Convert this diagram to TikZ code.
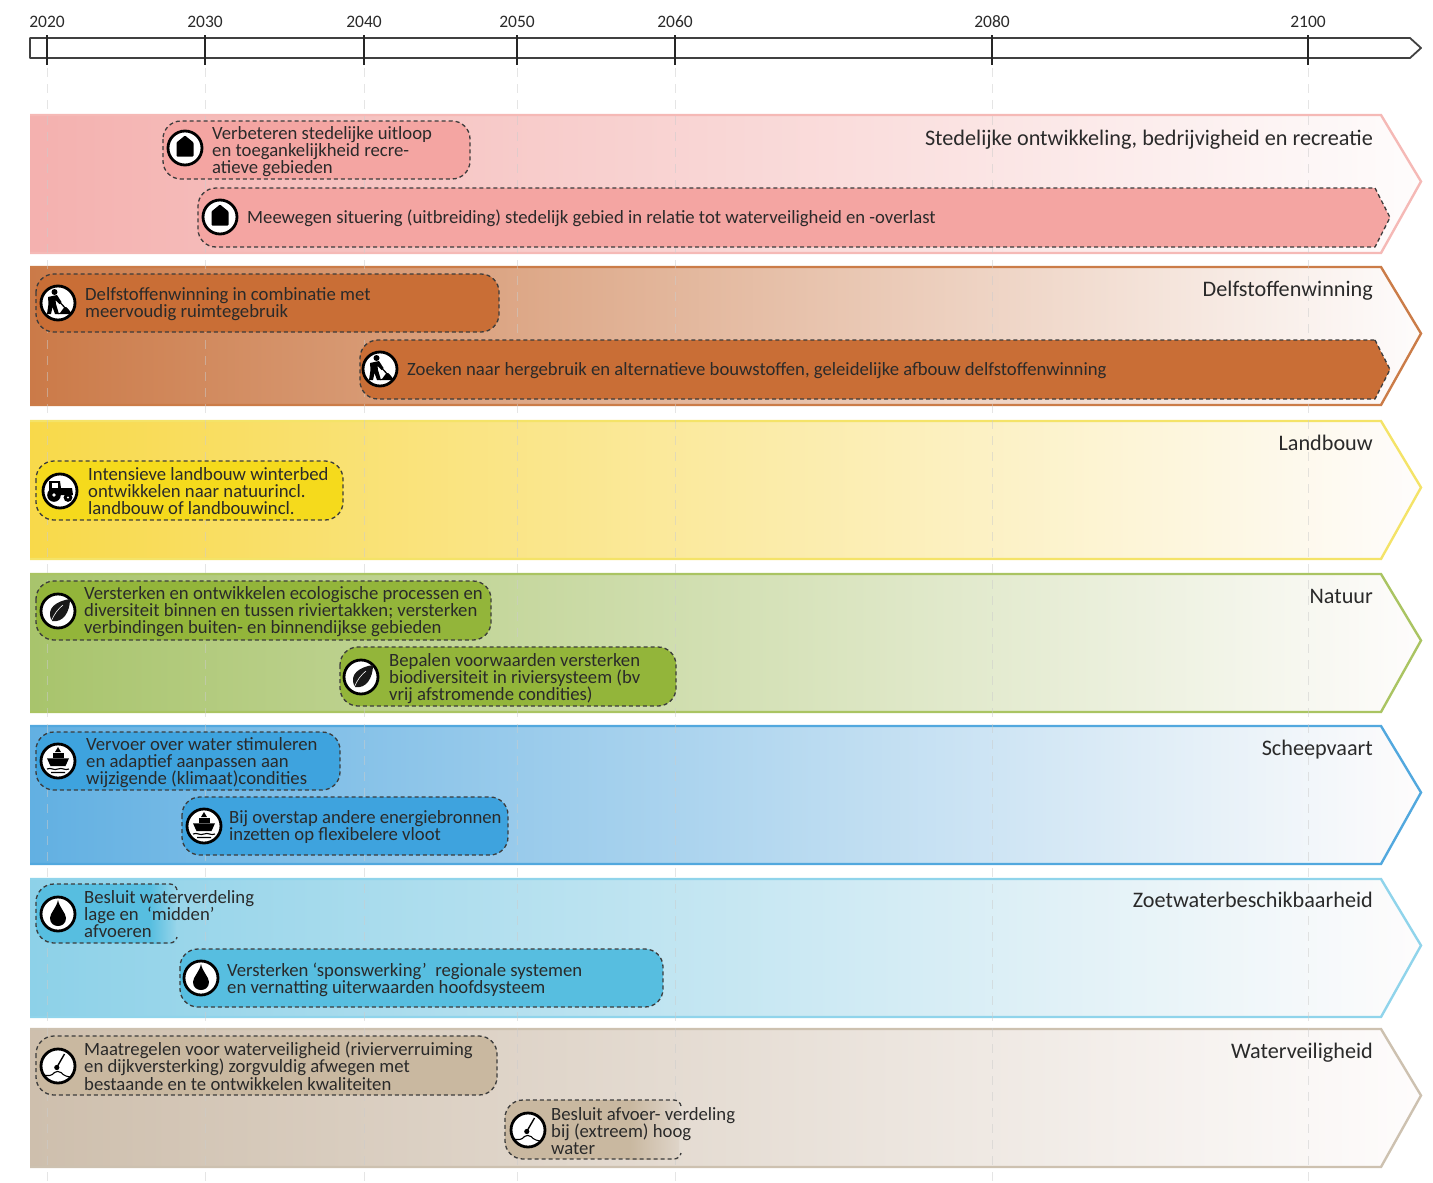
\documentclass[tikz,border=0pt]{standalone}
\usepackage{fontspec}
\setmainfont{Carlito}
\definecolor{txt}{HTML}{2A2A2A}
\definecolor{dashc}{HTML}{3C3C3C}
\definecolor{pinkB}{HTML}{F4B1AF}\definecolor{pinkS}{HTML}{F5B9B6}\definecolor{pinkP}{HTML}{F4A5A2}
\definecolor{oraB}{HTML}{CB7A48}\definecolor{oraS}{HTML}{CB7C48}\definecolor{oraP}{HTML}{C96E36}
\definecolor{yelB}{HTML}{F8D94A}\definecolor{yelS}{HTML}{F4E368}\definecolor{yelP}{HTML}{F5DA1C}
\definecolor{greB}{HTML}{A8C46C}\definecolor{greS}{HTML}{AAC462}\definecolor{greP}{HTML}{93B53A}
\definecolor{bluB}{HTML}{62B0E2}\definecolor{bluS}{HTML}{52A8DE}\definecolor{bluP}{HTML}{3EA3DE}
\definecolor{cyaB}{HTML}{8DD1E8}\definecolor{cyaS}{HTML}{90D4EB}\definecolor{cyaP}{HTML}{57BEE0}
\definecolor{tanB}{HTML}{CEBFAD}\definecolor{tanS}{HTML}{CDC1B0}\definecolor{tanP}{HTML}{C9B8A0}
\definecolor{endW}{HTML}{FEFCFC}
\newcommand{\bandstrip}[4]{%
  \shade[left color=#3,middle color=#3!68!endW,right color=endW] (30,#1) -- (1381,#1) -- (1421,{(#1+#2)/2-2.5}) -- (1381,#2) -- (30,#2) -- cycle;
  \draw[bandedge,draw=#4] (30,#1) -- (1381,#1) -- (1421,{(#1+#2)/2-2.5}) -- (1381,#2) -- (30,#2);
}
\newcommand{\pillbox}[5]{%
  \draw[pilledge,fill=#5] (#1,#3) rectangle (#2,#4);
}
\newcommand{\pillarrow}[4]{%
  \draw[pilledge,sharp corners,fill=#4] (1375,#2) -- (1390,{(#2+#3)/2}) -- (1375,#3) [rounded corners=18pt] -- (#1,#3) -- (#1,#2) [sharp corners] -- (1375,#2) -- cycle;
}
\tikzset{
  x=1pt,y=-1pt,
  bandedge/.style={line width=2.4pt,line join=miter},
  yearline/.style={line width=1pt,draw=gray!40,dash pattern=on 9pt off 7pt,opacity=.5},
  yeartick/.style={line width=1.9pt,draw=black!85},
  pilledge/.style={line width=1.3pt,draw=dashc,dash pattern=on 4pt off 3pt,rounded corners=18pt},
  icon ring/.style={circle,draw=black,fill=white,line width=2.8pt,minimum size=34pt,inner sep=0pt},
  pilltext/.style={anchor=west,align=left,inner sep=0pt,text=txt,font=\fontsize{18.7}{17.3}\selectfont},
  bandtitle/.style={anchor=east,inner sep=0pt,text=txt,font=\fontsize{22.2}{24}\selectfont},
  yearlabel/.style={inner sep=0pt,text=txt,font=\fontsize{17.5}{18}\selectfont},
  housepic/.pic={\fill[black,rounded corners=.8pt] (0,-12.5) -- (8.5,-5.5) -- (8.5,8.5) -- (-8.5,8.5) -- (-8.5,-5.5) -- cycle;},
  minerpic/.pic={
    \fill[black] (-3.5,-11) circle (3);
    \fill[black] (-10,-6) -- (-1,-8) -- (3.5,-1) -- (1.5,1) -- (-2.5,-3) -- (-2,1) -- (1,11) -- (-3,11) -- (-5.5,4) -- (-7,11) -- (-11,11) -- (-9.5,1) -- cycle;
    \draw[black,line width=1.3pt] (-1,-4) -- (9,7);
    \fill[black] (0,11) .. controls (4,10) and (5,3) .. (8,4) .. controls (10,5) and (12,9) .. (14.5,11) -- cycle;},
  tractorpic/.pic={
    \fill[black] (-11,-10) -- (0,-10) -- (1,-3) -- (12,-3) -- (13,4) -- (-11,4) -- cycle;
    \fill[white] (-8,-8) rectangle (-2,-3);
    \fill[black] (-6,4) circle (6.8);\fill[white] (-6,4) circle (1.8);
    \fill[black] (8,6.5) circle (4.4);\fill[white] (8,6.5) circle (1.2);},
  leafpic/.pic={
    \fill[black!90] (-6,10) .. controls (-13,-3) and (-1,-10) .. (12,-12) .. controls (12,1) and (5,12) .. (-6,10) -- cycle;
    \draw[white,line width=.6pt] (-7,11) .. controls (-4,3) and (0,-2) .. (5,-6);},
  shippic/.pic={
    \fill[black] (0,-14) -- (3,-9) -- (-3,-9) -- cycle;
    \fill[black] (-5.5,-8.2) rectangle (5.5,-3.5);
    \fill[black] (-11,-2.7) -- (11,-2.7) -- (7.5,5) -- (-7.5,5) -- cycle;
    \draw[black,line width=1.1pt] (-11,8) .. controls (-7,6) and (-4,10) .. (0,8) .. controls (4,6) and (7,10) .. (11,8);
    \draw[black,line width=1.1pt] (-7,11.5) .. controls (-4,10) and (-2,13) .. (0,11.5) .. controls (2,10) and (4,13) .. (7,11.5);},
  droppic/.pic={\fill[black] (0,-14) .. controls (1.5,-6) and (8,-1) .. (8,4) .. controls (8,9.5) and (4,12) .. (0,12) .. controls (-4,12) and (-8,9.5) .. (-8,4) .. controls (-8,-1) and (-1.5,-6) .. (0,-14) -- cycle;},
  dialpic/.pic={
    \draw[black,line width=1.4pt] (6.5,-12) -- (-1,1);
    \fill[black] (-1.2,1.5) circle (2.6);
    \draw[black,line width=1.1pt] (-14.5,9) .. controls (-10,10) and (-6,10) .. (-3.5,6.5) .. controls (-2,5) and (1,5) .. (3,6.5) .. controls (6,10) and (10,11) .. (14,11);},
}
\begin{document}
\begin{tikzpicture}
\useasboundingbox (0,0) rectangle (1433,1183);
% bands
\bandstrip{115}{253}{pinkB}{pinkS}
\bandstrip{267}{405}{oraB}{oraS}
\bandstrip{421}{559}{yelB}{yelS}
\bandstrip{574}{712}{greB}{greS}
\bandstrip{726}{864}{bluB}{bluS}
\bandstrip{879}{1017}{cyaB}{cyaS}
\bandstrip{1029}{1167}{tanB}{tanS}
% year guide lines
\foreach \xx in {47,205,364,517,675,992,1308}{\draw[yearline] (\xx,68) -- (\xx,1183);}
% time axis
\draw[line width=1.8pt,draw=black!75,line join=round] (30,38) -- (1410,38) -- (1421,48) -- (1410,58) -- (30,58) -- cycle;
\foreach \xx/\yy in {47/2020,205/2030,364/2040,517/2050,675/2060,992/2080,1308/2100}{
  \draw[yeartick] (\xx,35) -- (\xx,65);
  \node[yearlabel] (y\yy) at (\xx,22) {\yy};
}
% pills
\pillbox{163}{470}{121}{179}{pinkP}
\pillarrow{198}{188}{247}{pinkP}
\pillbox{36}{499}{274}{332}{oraP}
\pillarrow{360}{340}{399}{oraP}
\pillbox{36}{343}{461}{520}{yelP}
\pillbox{36}{491}{581}{640}{greP}
\pillbox{340}{676}{647}{706}{greP}
\pillbox{36}{340}{732}{790}{bluP}
\pillbox{182}{508}{797}{855}{bluP}
\pillbox{180}{663}{949}{1007}{cyaP}
\pillbox{36}{497}{1036}{1095}{tanP}
% fading pills
\fill[cyaP] (150,884) [rounded corners=18pt] -- (36,884) -- (36,943) [sharp corners] -- (150,943) -- cycle;
\shade[left color=cyaP,right color=cyaB!92!endW] (150,884) rectangle (176,943);
\draw[pilledge] (177,890) [rounded corners=6pt] -- (176,884) [rounded corners=18pt] -- (36,884) -- (36,943) [rounded corners=6pt] -- (176,943) -- (177,937);
\fill[tanP] (630,1100) [rounded corners=18pt] -- (505,1100) -- (505,1159) [sharp corners] -- (630,1159) -- cycle;
\shade[left color=tanP,right color=tanB!65!endW] (630,1100) rectangle (679,1159);
\draw[pilledge] (681,1106) [rounded corners=6pt] -- (680,1100) [rounded corners=18pt] -- (505,1100) -- (505,1159) [rounded corners=6pt] -- (680,1159) -- (681,1153);
% icons
\node[icon ring] (i1) at (185,148) {}; \pic at (i1) {housepic};
\node[icon ring] (i2) at (220,217) {}; \pic at (i2) {housepic};
\node[icon ring] (i3) at (58,303) {}; \pic at (i3) {minerpic};
\node[icon ring] (i4) at (380,369) {}; \pic at (i4) {minerpic};
\node[icon ring] (i5) at (60,491) {}; \pic at (i5) {tractorpic};
\node[icon ring] (i6) at (58,611) {}; \pic at (i6) {leafpic};
\node[icon ring] (i7) at (361,677) {}; \pic at (i7) {leafpic};
\node[icon ring] (i8) at (58,761) {}; \pic at (i8) {shippic};
\node[icon ring] (i9) at (204,826) {}; \pic at (i9) {shippic};
\node[icon ring] (i10) at (58,914) {}; \pic at (i10) {droppic};
\node[icon ring] (i11) at (201,978) {}; \pic at (i11) {droppic};
\node[icon ring] (i12) at (58,1066) {}; \pic at (i12) {dialpic};
\node[icon ring] (i13) at (528,1130) {}; \pic at (i13) {dialpic};
% pill texts
\node[pilltext] (t1) at (212,151.5) {Verbeteren stedelijke uitloop\\en toegankelijkheid recre-\\atieve gebieden};
\node[pilltext] (t2) at (247,218) {Meewegen situering (uitbreiding) stedelijk gebied in relatie tot waterveiligheid en -overlast};
\node[pilltext] (t3) at (85,304) {Delfstoffenwinning in combinatie met\\meervoudig ruimtegebruik};
\node[pilltext] (t4) at (407,371) {Zoeken naar hergebruik en alternatieve bouwstoffen, geleidelijke afbouw delfstoffenwinning};
\node[pilltext] (t5) at (88,491) {Intensieve landbouw winterbed\\ontwikkelen naar natuurincl.\\landbouw of landbouwincl.};
\node[pilltext] (t6) at (84,611.5) {Versterken en ontwikkelen ecologische processen en\\diversiteit binnen en tussen riviertakken; versterken\\verbindingen buiten- en binnendijkse gebieden};
\node[pilltext] (t7) at (389,678.5) {Bepalen voorwaarden versterken\\biodiversiteit in riviersysteem (bv\\vrij afstromende condities)};
\node[pilltext] (t8) at (86,762.5) {Vervoer over water stimuleren\\en adaptief aanpassen aan\\wijzigende (klimaat)condities};
\node[pilltext] (t9) at (229,827) {Bij overstap andere energiebronnen\\inzetten op flexibelere vloot};
\node[pilltext] (t10) at (84,914) {Besluit waterverdeling\\lage en\ \ ‘midden’\\afvoeren};
\node[pilltext] (t11) at (227,980) {Versterken ‘sponswerking’\ \ regionale systemen\\en vernatting uiterwaarden hoofdsysteem};
\node[pilltext] (t12) at (84,1066) {Maatregelen voor waterveiligheid (rivierverruiming\\en dijkversterking) zorgvuldig afwegen met\\bestaande en te ontwikkelen kwaliteiten};
\node[pilltext] (t13) at (551,1131) {Besluit afvoer- verdeling\\bij (extreem) hoog\\water};
% band titles
\node[bandtitle] (b1) at (1373,140) {Stedelijke ontwikkeling, bedrijvigheid en recreatie};
\node[bandtitle] (b2) at (1373,290.5) {Delfstoffenwinning};
\node[bandtitle] (b3) at (1373,443) {Landbouw};
\node[bandtitle] (b4) at (1373,596) {Natuur};
\node[bandtitle] (b5) at (1373,750) {Scheepvaart};
\node[bandtitle] (b6) at (1373,900) {Zoetwaterbeschikbaarheid};
\node[bandtitle] (b7) at (1373,1053) {Waterveiligheid};
\end{tikzpicture}
\end{document}
